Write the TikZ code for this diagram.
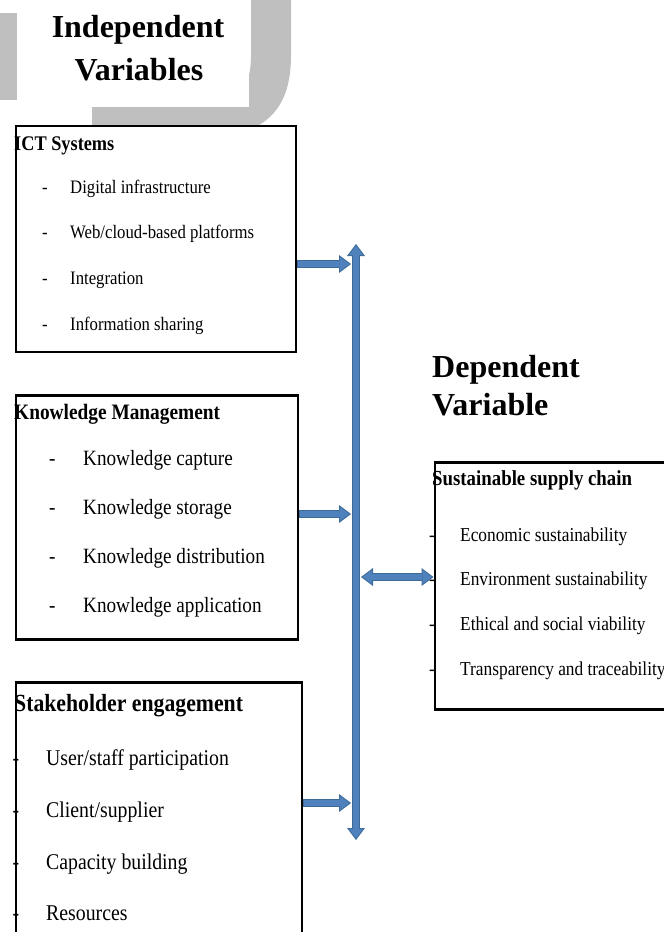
\documentclass[tikz,border=0pt]{standalone}
\usepackage{fontspec}
\setmainfont{Liberation Serif}
\newfontfamily\narrowfont[FakeStretch=0.88]{Liberation Serif}
\usetikzlibrary{arrows.meta}
\definecolor{wmgray}{RGB}{191,191,191}
\definecolor{arrblue}{RGB}{79,129,189}
\definecolor{arrline}{RGB}{60,105,150}
\tikzset{
  inhead/.tip={Triangle[width=14pt,length=9.5pt,line width=0pt]},
  outhead/.tip={Triangle[width=18pt,length=12pt,line width=0pt]}
}

\begin{document}
\begin{tikzpicture}[x=1pt,y=-1pt,
  box/.style={draw,line width=2.8pt,fill=white,anchor=north west,inner sep=0pt},
  head/.style={font=\fontsize{32}{40}\selectfont\bfseries,inner sep=0pt},
  item/.style={anchor=base west,inner sep=0pt},
  ictit/.style={item,font=\narrowfont\fontsize{19}{23}\selectfont},
  kmit/.style={item,font=\narrowfont\fontsize{21.8}{26}\selectfont},
  seit/.style={item,font=\narrowfont\fontsize{22.5}{27}\selectfont},
  scit/.style={item,font=\narrowfont\fontsize{19.7}{24}\selectfont},
  blk/.style={draw=arrblue,line width=6pt},
  arr/.style={blk,-inhead,shorten >=1.6pt,shorten <=0.8pt,
    preaction={draw=arrline,line width=8.5pt,-outhead,shorten >=0pt,shorten <=0pt}},
  darr/.style={blk,inhead-inhead,shorten >=1.6pt,shorten <=1.6pt,
    preaction={draw=arrline,line width=8.5pt,outhead-outhead,shorten >=0pt,shorten <=0pt}}]
  \useasboundingbox (0,0) rectangle (664,932);
  \clip (0,0) rectangle (664,932);

  \fill[wmgray] (0,13) rectangle (17,100);
  \draw[wmgray,line width=40pt] (271,-5) -- (271,55) .. controls (271,118) and (235,118) .. (165,118) -- (92,118);
  \fill[white] (17,0) rectangle (249,107);

  \node[head,anchor=base] (indep) at (138,37) {Independent};
  \node[head,anchor=base] (indepvar) at (139,80) {Variables};
  \node[head,anchor=base west] (dep) at (432,377) {Dependent};
  \node[head,anchor=base west] (depvar) at (432,415) {Variable};

  \node[box,minimum width=280pt,minimum height=226pt] (ict) at (14.5,124.5) {};
  \node[box,minimum width=282pt,minimum height=244pt] (km) at (14.5,394) {};
  \node[box,minimum width=286pt,minimum height=300pt] (se) at (14.5,681) {};
  \node[box,minimum width=280pt,minimum height=247pt] (ssc) at (433.5,461) {};

  \node[ictit,font=\narrowfont\bfseries\fontsize{20.8}{25}\selectfont] (ictt) at (14,150) {ICT Systems};
  \node[ictit] (ict1) at (42,193) {\makebox[28pt][l]{-}Digital infrastructure};
  \node[ictit] (ict2) at (42,238) {\makebox[28pt][l]{-}Web/cloud-based platforms};
  \node[ictit] (ict3) at (42,284) {\makebox[28pt][l]{-}Integration};
  \node[ictit] (ict4) at (42,330) {\makebox[28pt][l]{-}Information sharing};

  \node[kmit,font=\narrowfont\bfseries\fontsize{22}{26}\selectfont] (kmt) at (14,419) {Knowledge Management};
  \node[kmit] (km1) at (49,465) {\makebox[34pt][l]{-}Knowledge capture};
  \node[kmit] (km2) at (49,514) {\makebox[34pt][l]{-}Knowledge storage};
  \node[kmit] (km3) at (49,563) {\makebox[34pt][l]{-}Knowledge distribution};
  \node[kmit] (km4) at (49,612) {\makebox[34pt][l]{-}Knowledge application};

  \node[seit,font=\narrowfont\bfseries\fontsize{24.7}{29}\selectfont] (set) at (14,711) {Stakeholder engagement};
  \node[seit] (se1) at (12.5,765) {\makebox[33.5pt][l]{-}User/staff participation};
  \node[seit] (se2) at (12.5,817) {\makebox[33.5pt][l]{-}Client/supplier};
  \node[seit] (se3) at (12.5,869) {\makebox[33.5pt][l]{-}Capacity building};
  \node[seit] (se4) at (12.5,920) {\makebox[33.5pt][l]{-}Resources};

  \node[scit,font=\narrowfont\bfseries\fontsize{21.4}{25}\selectfont] (ssct) at (432,485) {Sustainable supply chain};
  \node[scit] (ssc1) at (429,541) {\makebox[31pt][l]{-}Economic sustainability};
  \node[scit] (ssc2) at (429,585) {\makebox[31pt][l]{-}Environment sustainability};
  \node[scit] (ssc3) at (429,630) {\makebox[31pt][l]{-}Ethical and social viability};
  \node[scit] (ssc4) at (429,675) {\makebox[31pt][l]{-}Transparency and traceability};

  \coordinate (bartop) at (356,244);
  \coordinate (barbot) at (356,840);
  \coordinate (in1) at (351,264);
  \coordinate (in2) at (351,514);
  \coordinate (in3) at (351,803);
  \coordinate (out) at (361,577);

  \draw[darr] (bartop) -- (barbot);
  \draw[arr] (ict.east |- in1) -- (in1);
  \draw[arr] (km.east |- in2) -- (in2);
  \draw[arr] (se.east |- in3) -- (in3);
  \draw[darr] (out) -- (ssc.west |- out);
\end{tikzpicture}
\end{document}
